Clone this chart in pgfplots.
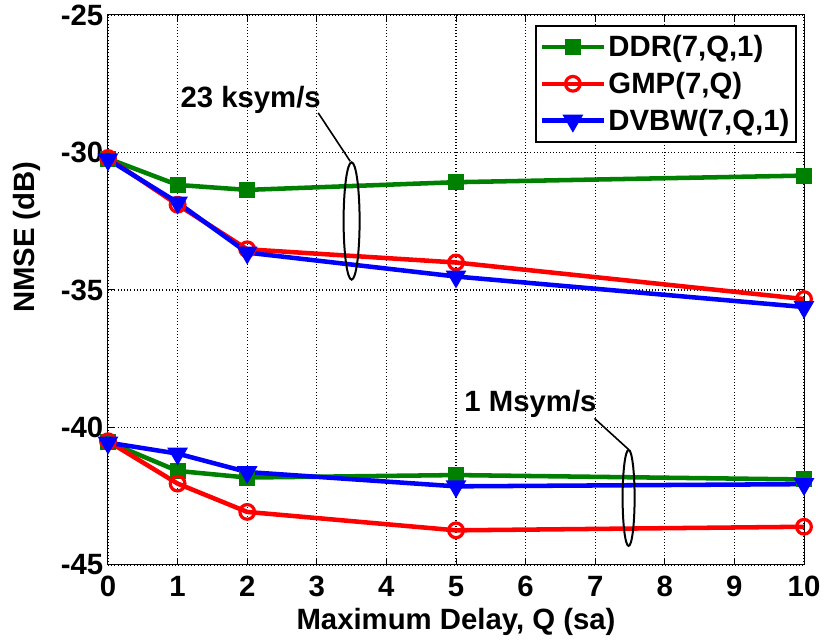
\documentclass[border=0pt]{standalone}
\usepackage{fontspec}
\setmainfont{Liberation Sans}
\usepackage{pgfplots}
\pgfplotsset{compat=1.18}
\definecolor{mgreen}{rgb}{0,0.5,0}
\newcommand{\lf}{\fontsize{22}{26}\selectfont\bfseries}
\begin{document}
\begin{tikzpicture}
\path[use as bounding box] (-81pt,-57pt) rectangle (537pt,423.75pt);
\begin{axis}[
 scale only axis, width=522pt, height=412.5pt,
 xmin=0, xmax=10, ymin=-45, ymax=-25,
 xtick={0,1,...,10}, ytick={-45,-40,-35,-30,-25},
 tick align=inside, major tick length=5pt,
 grid=major, grid style={dotted, black, line width=0.8pt},
 axis line style={line width=0.75pt},
 every tick/.style={black, line width=0.75pt},
 /pgf/number format/assume math mode=true,
 ticklabel style={font=\lf},
 xticklabel style={yshift=-5pt},
 label style={font=\lf},
 xlabel={Maximum Delay, Q (sa)}, ylabel={NMSE (dB)},
 xlabel style={at={(axis description cs:0.5,-0.118)}, anchor=base},
 ylabel style={at={(axis description cs:-0.116,0.596)}, anchor=center},
 clip=false,
 legend style={at={(0.99,0.982)}, anchor=north east, draw=black, line width=1.5pt,
   font=\lf, inner xsep=3pt, inner ysep=5pt, row sep=6.25pt, cells={anchor=west}},
 legend image code/.code={\draw[mark repeat=2,mark phase=2,#1] plot coordinates {(0pt,0pt) (23pt,0pt) (46pt,0pt)};},
]
% 23 ksym/s
\addplot[mgreen, line width=3.4pt, mark=square*, mark size=5.5pt, mark options={solid, line width=1pt}]
 coordinates {(0,-30.22) (1,-31.18) (2,-31.36) (5,-31.08) (10,-30.84)};
\addlegendentry{DDR(7,Q,1)}
\addplot[red, line width=3.4pt, mark=o, mark size=5.5pt, mark options={solid, line width=2.4pt}]
 coordinates {(0,-30.2) (1,-31.9) (2,-33.52) (5,-34.0) (10,-35.33)};
\addlegendentry{GMP(7,Q)}
\addplot[blue, line width=3.4pt, mark=triangle*, mark size=8pt, mark options={solid, rotate=180, line width=1pt}]
 coordinates {(0,-30.25) (1,-31.82) (2,-33.64) (5,-34.51) (10,-35.62)};
\addlegendentry{DVBW(7,Q,1)}
% 1 Msym/s
\addplot[forget plot, mgreen, line width=3.4pt, mark=square*, mark size=5.5pt, mark options={solid, line width=1pt}]
 coordinates {(0,-40.52) (1,-41.58) (2,-41.82) (5,-41.73) (10,-41.89)};
\addplot[forget plot, red, line width=3.4pt, mark=o, mark size=5.5pt, mark options={solid, line width=2.4pt}]
 coordinates {(0,-40.5) (1,-42.04) (2,-43.07) (5,-43.74) (10,-43.61)};
\addplot[forget plot, blue, line width=3.4pt, mark=triangle*, mark size=8pt, mark options={solid, rotate=180, line width=1pt}]
 coordinates {(0,-40.55) (1,-40.95) (2,-41.62) (5,-42.14) (10,-42.06)};
% annotations
\draw[line width=1.5pt] (axis cs:3.5,-32.49) ellipse [x radius=6pt, y radius=44pt];
\draw[line width=1.2pt] (axis cs:3.02,-28.56) -- (axis cs:3.48,-30.32);
\node[anchor=base, font=\lf, inner sep=0pt] at (axis cs:2.05,-28.35) {23 ksym/s};
\draw[line width=1.5pt] (axis cs:7.48,-42.56) ellipse [x radius=4.5pt, y radius=36pt];
\draw[line width=1.2pt] (axis cs:6.99,-39.67) -- (axis cs:7.48,-40.80);
\node[anchor=base, font=\lf, inner sep=0pt] at (axis cs:6.07,-39.43) {1 Msym/s};
\end{axis}
\end{tikzpicture}
\end{document}
